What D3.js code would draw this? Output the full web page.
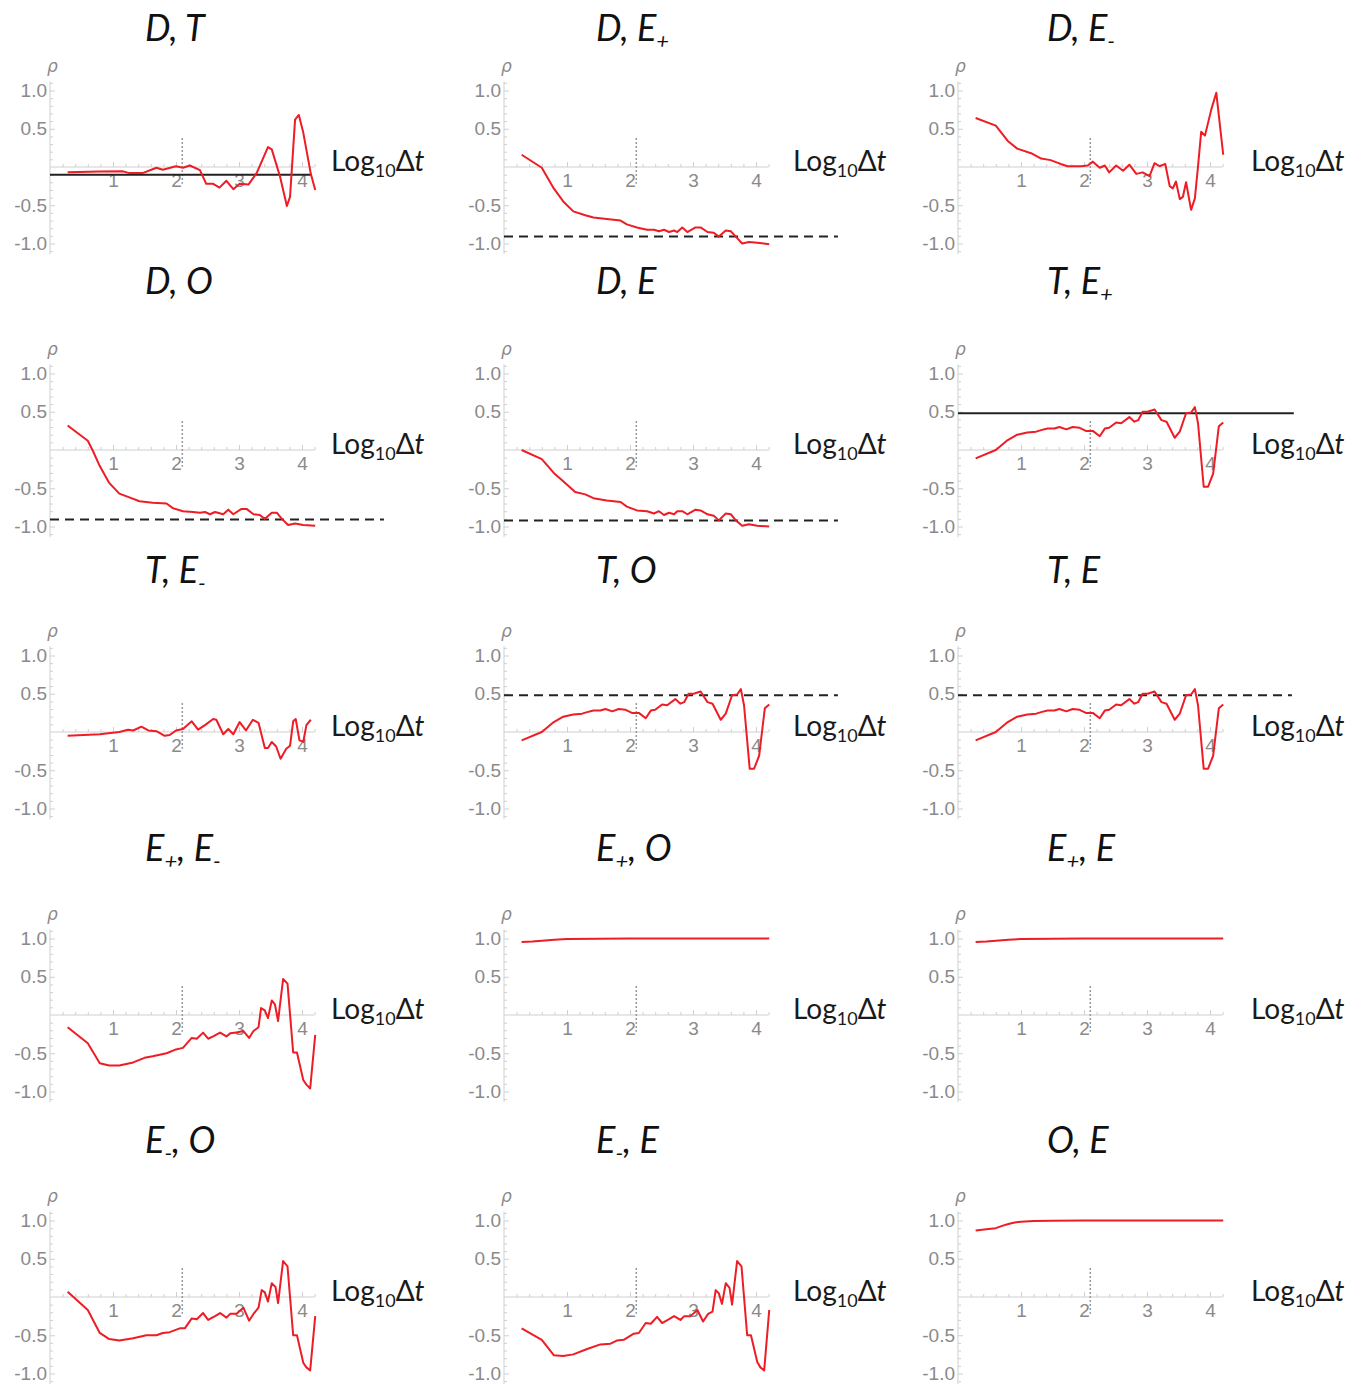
<!DOCTYPE html>
<html><head><meta charset="utf-8">
<script src="https://cdn.jsdelivr.net/npm/d3@7"></script>
<style>body{margin:0;background:#fff}svg{display:block}</style>
</head><body>
<script>
// ---------- DATA ----------
const titles = ["D, T","D, E_+","D, E_-","D, O","D, E","T, E_+","T, E_-","T, O","T, E","E_+, E_-","E_+, O","E_+, E","E_-, O","E_-, E","O, E"];
const xTicks = [1,2,3,4];
const yTicks = [1.0,0.5,-0.5,-1.0];
const markerX = 2.1;

const dT = [[0.28,-0.07],[0.79,-0.06],[1.16,-0.057],[1.26,-0.08],[1.47,-0.08],[1.69,-0.01],[1.79,-0.035],[2.0,0.01],[2.11,-0.01],[2.22,0.02],[2.38,-0.04],[2.48,-0.22],[2.59,-0.22],[2.69,-0.27],[2.8,-0.18],[2.91,-0.29],[3.01,-0.22],[3.15,-0.23],[3.28,-0.08],[3.46,0.26],[3.52,0.23],[3.65,-0.12],[3.76,-0.51],[3.81,-0.39],[3.89,0.62],[3.95,0.68],[4.02,0.45],[4.14,-0.09],[4.21,-0.3]];
const dEplus = [[0.28,0.16],[0.6,-0.01],[0.79,-0.28],[0.94,-0.45],[1.1,-0.58],[1.29,-0.63],[1.42,-0.66],[1.63,-0.68],[1.85,-0.70],[1.95,-0.75],[2.11,-0.79],[2.27,-0.82],[2.38,-0.82],[2.46,-0.84],[2.54,-0.82],[2.62,-0.85],[2.7,-0.83],[2.75,-0.85],[2.83,-0.79],[2.91,-0.85],[3.04,-0.79],[3.12,-0.79],[3.23,-0.85],[3.33,-0.86],[3.41,-0.91],[3.52,-0.83],[3.6,-0.84],[3.68,-0.91],[3.78,-1.0],[3.89,-0.98],[4.02,-0.99],[4.21,-1.01]];
const dEminus = [[0.28,0.64],[0.6,0.54],[0.79,0.34],[0.94,0.24],[1.16,0.18],[1.32,0.11],[1.47,0.09],[1.63,0.04],[1.74,0.01],[1.85,0.01],[1.95,0.01],[2.06,0.02],[2.14,0.07],[2.25,-0.01],[2.33,0.02],[2.4,-0.07],[2.51,0.02],[2.62,-0.05],[2.72,0.03],[2.83,-0.09],[2.93,-0.07],[3.04,-0.12],[3.12,0.05],[3.2,0.01],[3.29,0.04],[3.36,-0.25],[3.41,-0.28],[3.46,-0.19],[3.52,-0.42],[3.57,-0.39],[3.62,-0.2],[3.7,-0.56],[3.76,-0.41],[3.81,0.01],[3.86,0.46],[3.92,0.41],[4.02,0.75],[4.1,0.97],[4.21,0.16]];
const dO = [[0.28,0.32],[0.6,0.12],[0.68,-0.01],[0.79,-0.21],[0.94,-0.43],[1.1,-0.57],[1.26,-0.62],[1.42,-0.67],[1.63,-0.69],[1.85,-0.70],[1.95,-0.76],[2.11,-0.80],[2.27,-0.81],[2.38,-0.82],[2.46,-0.81],[2.54,-0.84],[2.62,-0.81],[2.75,-0.84],[2.83,-0.78],[2.91,-0.84],[3.04,-0.77],[3.12,-0.77],[3.23,-0.84],[3.33,-0.85],[3.41,-0.9],[3.52,-0.82],[3.6,-0.82],[3.68,-0.9],[3.78,-0.98],[3.89,-0.96],[4.02,-0.98],[4.21,-0.99]];
const dE = [[0.28,0.0],[0.6,-0.12],[0.79,-0.3],[0.94,-0.41],[1.13,-0.55],[1.29,-0.58],[1.42,-0.63],[1.63,-0.66],[1.85,-0.68],[1.95,-0.74],[2.11,-0.79],[2.27,-0.8],[2.38,-0.83],[2.46,-0.8],[2.54,-0.85],[2.62,-0.82],[2.7,-0.84],[2.75,-0.8],[2.83,-0.8],[2.91,-0.84],[3.04,-0.78],[3.12,-0.79],[3.23,-0.84],[3.33,-0.86],[3.41,-0.92],[3.52,-0.83],[3.6,-0.84],[3.68,-0.92],[3.78,-0.99],[3.89,-0.97],[4.02,-0.99],[4.21,-1.0]];
const tEplus = [[0.28,-0.11],[0.6,0.0],[0.79,0.13],[0.94,0.2],[1.1,0.23],[1.24,0.24],[1.32,0.26],[1.42,0.28],[1.53,0.28],[1.61,0.3],[1.72,0.27],[1.82,0.3],[1.93,0.29],[2.03,0.25],[2.14,0.25],[2.25,0.18],[2.33,0.28],[2.4,0.29],[2.51,0.36],[2.59,0.35],[2.72,0.43],[2.8,0.37],[2.86,0.39],[2.93,0.5],[3.01,0.5],[3.12,0.53],[3.23,0.39],[3.31,0.37],[3.44,0.16],[3.52,0.24],[3.62,0.48],[3.7,0.49],[3.76,0.56],[3.81,0.35],[3.9,-0.48],[3.97,-0.48],[4.05,-0.31],[4.14,0.31],[4.21,0.36]];
const tEminus = [[0.28,-0.05],[0.79,-0.03],[1.1,0.0],[1.24,0.03],[1.32,0.02],[1.45,0.07],[1.56,0.02],[1.69,0.01],[1.82,-0.05],[1.9,-0.04],[2.0,0.02],[2.11,0.04],[2.25,0.14],[2.35,0.03],[2.46,0.09],[2.59,0.17],[2.64,0.16],[2.75,-0.03],[2.83,0.04],[2.91,-0.03],[3.01,0.13],[3.11,0.02],[3.22,0.16],[3.31,0.12],[3.41,-0.21],[3.46,-0.21],[3.52,-0.13],[3.59,-0.19],[3.66,-0.35],[3.75,-0.22],[3.81,-0.18],[3.86,0.14],[3.9,0.17],[3.96,-0.11],[4.02,-0.13],[4.07,0.09],[4.14,0.16]];
const tO = [[0.28,-0.11],[0.6,0.0],[0.79,0.13],[0.94,0.2],[1.1,0.23],[1.24,0.24],[1.32,0.26],[1.42,0.28],[1.53,0.28],[1.61,0.3],[1.72,0.27],[1.82,0.3],[1.93,0.29],[2.03,0.25],[2.14,0.25],[2.25,0.18],[2.33,0.28],[2.4,0.29],[2.51,0.36],[2.59,0.35],[2.72,0.43],[2.8,0.37],[2.86,0.39],[2.93,0.5],[3.01,0.5],[3.12,0.53],[3.23,0.39],[3.31,0.37],[3.44,0.16],[3.52,0.24],[3.62,0.48],[3.7,0.49],[3.76,0.56],[3.81,0.35],[3.9,-0.48],[3.97,-0.48],[4.05,-0.31],[4.14,0.31],[4.21,0.36]];
const tE = [[0.28,-0.11],[0.6,0.0],[0.79,0.13],[0.94,0.2],[1.1,0.23],[1.24,0.24],[1.32,0.26],[1.42,0.28],[1.53,0.28],[1.61,0.3],[1.72,0.27],[1.82,0.3],[1.93,0.29],[2.03,0.25],[2.14,0.25],[2.25,0.18],[2.33,0.28],[2.4,0.29],[2.51,0.36],[2.59,0.35],[2.72,0.43],[2.8,0.37],[2.86,0.39],[2.93,0.5],[3.01,0.5],[3.12,0.53],[3.23,0.39],[3.31,0.37],[3.44,0.16],[3.52,0.24],[3.62,0.48],[3.7,0.49],[3.76,0.56],[3.81,0.35],[3.9,-0.48],[3.97,-0.48],[4.05,-0.31],[4.14,0.31],[4.21,0.36]];
const ePlusEMinus = [[0.28,-0.16],[0.6,-0.37],[0.79,-0.63],[0.94,-0.66],[1.1,-0.66],[1.32,-0.62],[1.5,-0.56],[1.63,-0.54],[1.74,-0.52],[1.85,-0.5],[2.0,-0.45],[2.11,-0.43],[2.25,-0.3],[2.33,-0.31],[2.43,-0.23],[2.51,-0.31],[2.59,-0.28],[2.7,-0.23],[2.8,-0.28],[2.86,-0.24],[2.96,-0.23],[3.07,-0.21],[3.16,-0.3],[3.23,-0.21],[3.31,-0.16],[3.35,0.09],[3.41,0.06],[3.46,-0.04],[3.52,0.19],[3.57,0.14],[3.62,-0.08],[3.7,0.47],[3.77,0.41],[3.86,-0.49],[3.92,-0.49],[4.02,-0.85],[4.07,-0.91],[4.13,-0.96],[4.21,-0.26]];
const ePlusO = [[0.28,0.955],[0.45,0.96],[0.6,0.97],[0.8,0.985],[1.0,0.993],[1.5,0.998],[2.0,1.0],[4.21,1.0]];
const ePlusE = [[0.28,0.955],[0.45,0.96],[0.6,0.97],[0.8,0.985],[1.0,0.993],[1.5,0.998],[2.0,1.0],[4.21,1.0]];
const eMinusO = [[0.28,0.07],[0.6,-0.17],[0.79,-0.47],[0.94,-0.55],[1.1,-0.57],[1.32,-0.54],[1.53,-0.5],[1.69,-0.5],[1.79,-0.47],[1.9,-0.46],[2.06,-0.41],[2.14,-0.41],[2.25,-0.28],[2.33,-0.29],[2.43,-0.21],[2.51,-0.3],[2.62,-0.25],[2.7,-0.21],[2.8,-0.27],[2.86,-0.22],[2.96,-0.22],[3.07,-0.14],[3.16,-0.31],[3.24,-0.21],[3.31,-0.14],[3.36,0.09],[3.41,0.06],[3.46,-0.06],[3.52,0.18],[3.58,0.13],[3.62,-0.08],[3.7,0.47],[3.77,0.4],[3.86,-0.5],[3.92,-0.5],[4.02,-0.86],[4.07,-0.92],[4.13,-0.96],[4.21,-0.25]];
const eMinusE = [[0.28,-0.41],[0.6,-0.56],[0.79,-0.76],[0.94,-0.77],[1.1,-0.75],[1.32,-0.68],[1.53,-0.62],[1.69,-0.61],[1.79,-0.57],[1.9,-0.56],[2.06,-0.48],[2.14,-0.47],[2.25,-0.34],[2.33,-0.35],[2.43,-0.26],[2.51,-0.34],[2.62,-0.29],[2.7,-0.25],[2.8,-0.3],[2.86,-0.25],[2.96,-0.25],[3.07,-0.17],[3.16,-0.32],[3.24,-0.22],[3.31,-0.19],[3.36,0.09],[3.41,0.05],[3.46,-0.09],[3.52,0.18],[3.58,0.12],[3.62,-0.1],[3.7,0.47],[3.77,0.4],[3.86,-0.5],[3.92,-0.5],[4.02,-0.85],[4.07,-0.92],[4.13,-0.96],[4.21,-0.17]];
const oE = [[0.28,0.87],[0.45,0.885],[0.6,0.9],[0.7,0.93],[0.8,0.955],[0.9,0.975],[1.0,0.985],[1.2,0.993],[1.5,0.997],[2.0,1.0],[4.21,1.0]];

const series = [dT,dEplus,dEminus,dO,dE,tEplus,tEminus,tO,tE,ePlusEMinus,ePlusO,ePlusE,eMinusO,eMinusE,oE];
// reference line value, kind and right end (in log10 Δt)
const refValue = [-0.1,-0.91,null,-0.91,-0.92,0.48,null,0.48,0.48,null,null,null,null,null,null];
const refKind  = ["solid","dashed",null,"dashed","dashed","solid",null,"dashed","dashed",null,null,null,null,null,null];
const refEnd   = [4.15,5.3,null,5.3,5.3,5.33,null,5.3,5.3,null,null,null,null,null,null];

// ---------- LAYOUT ----------
const W=1362,H=1384;
const colX=[50,504,958];
const rowZero=[167,450,732,1015,1297];
const titleOff=[126,156,149,154,144];
const titleDx=[95,92,89];
const labelDx=[281,289,293];
const xUnit=63, yUnit=76.5;

const svg=d3.select("body").append("svg").attr("width",W).attr("height",H);
const grey="#8a8a8a", axisCol="#cfcfcf";

series.forEach((data,i)=>{
  const col=i%3,row=Math.floor(i/3);
  const x0=colX[col], z=rowZero[row];
  const x=d3.scaleLinear().domain([0,4]).range([x0,x0+4*xUnit]);
  const y=d3.scaleLinear().domain([-1,1]).range([z+yUnit,z-yUnit]);
  const g=svg.append("g");

  // title
  const t=g.append("text").attr("x",x0+titleDx[col]).attr("y",z-titleOff[row])
    .attr("font-family","Lato, 'Open Sans', sans-serif").attr("font-style","italic")
    .attr("font-size",36).attr("fill","#111");
  const parts=titles[i].split(/(_.)/).filter(s=>s.length);
  let lowered=false;
  parts.forEach(p=>{
    if(p[0]==="_"){
      t.append("tspan").attr("font-size",22).attr("dy",8).text(p[1]);
      lowered=true;
    } else {
      const sp=t.append("tspan").text(p);
      if(lowered){sp.attr("dy",-8);lowered=false;}
    }
  });

  // y axis line
  g.append("line").attr("x1",x0).attr("x2",x0).attr("y1",y(1.12)).attr("y2",y(-1.14))
    .attr("stroke",axisCol).attr("stroke-width",1);
  const yMinor=d3.range(-11,12).map(v=>v/10).filter(v=>Math.abs(v)>0.001);
  const ya=g.append("g").attr("transform",`translate(${x0},0)`)
    .call(d3.axisRight(y).tickValues(yMinor).tickSize(3).tickFormat(""));
  ya.select(".domain").remove();
  ya.selectAll("line").attr("stroke",axisCol).attr("x2",d=>(Math.abs(d*2-Math.round(d*2))<0.001)?5:3);
  const yl=g.append("g").attr("transform",`translate(${x0},0)`)
    .call(d3.axisLeft(y).tickValues(yTicks).tickSize(0).tickPadding(3).tickFormat(d=>d.toFixed(1)));
  yl.select(".domain").remove();
  yl.selectAll("text").attr("font-family","'Liberation Sans', Arial, sans-serif").attr("font-size",19).attr("fill",grey);

  // x axis line
  g.append("line").attr("x1",x(0)).attr("x2",x(4.2)).attr("y1",z).attr("y2",z)
    .attr("stroke",axisCol).attr("stroke-width",1);
  const xMinor=d3.range(1,22).map(v=>v/5);
  const xa=g.append("g").attr("transform",`translate(0,${z})`)
    .call(d3.axisTop(x).tickValues(xMinor).tickSize(3).tickFormat(""));
  xa.select(".domain").remove();
  xa.selectAll("line").attr("stroke",axisCol).attr("y2",d=>Math.abs(d-Math.round(d))<0.001?-5:-3);
  const xl=g.append("g").attr("transform",`translate(0,${z})`)
    .call(d3.axisBottom(x).tickValues(xTicks).tickSize(0).tickPadding(7).tickFormat(d3.format("d")));
  xl.select(".domain").remove();
  xl.selectAll("text").attr("font-family","'Liberation Sans', Arial, sans-serif").attr("font-size",19).attr("fill",grey);

  // dotted marker
  g.append("line").attr("x1",x(markerX)).attr("x2",x(markerX)).attr("y1",y(0.38)).attr("y2",y(-0.22))
    .attr("stroke","#999").attr("stroke-width",1.5).attr("stroke-dasharray","2,2");

  // rho
  g.append("text").attr("x",x0-3).attr("y",z-95).attr("font-family","'DejaVu Sans', sans-serif")
    .attr("font-style","italic").attr("font-size",17).attr("fill",grey).text("ρ");

  // Log10 Δt label
  const lt=g.append("text").attr("x",x0+labelDx[col]).attr("y",z+4)
    .attr("font-family","Lato, 'Open Sans', sans-serif").attr("font-size",28).attr("fill","#1a1a1a");
  lt.append("tspan").text("Log");
  lt.append("tspan").attr("font-size",18).attr("dy",6).text("10");
  lt.append("tspan").attr("dy",-6).text("Δ");
  lt.append("tspan").attr("font-style","italic").text("t");

  // reference line
  if(refValue[i]!==null){
    g.append("line").attr("x1",x(0)).attr("x2",x(refEnd[i])).attr("y1",y(refValue[i])).attr("y2",y(refValue[i]))
      .attr("stroke","#222").attr("stroke-width",2)
      .attr("stroke-dasharray",refKind[i]==="dashed"?"9,6":null);
  }

  // red curve
  g.append("path").datum(data)
    .attr("d",d3.line().x(d=>x(d[0])).y(d=>y(d[1])))
    .attr("fill","none").attr("stroke","#ee1c25").attr("stroke-width",2).attr("stroke-linejoin","round");
});
</script>
</body></html>
